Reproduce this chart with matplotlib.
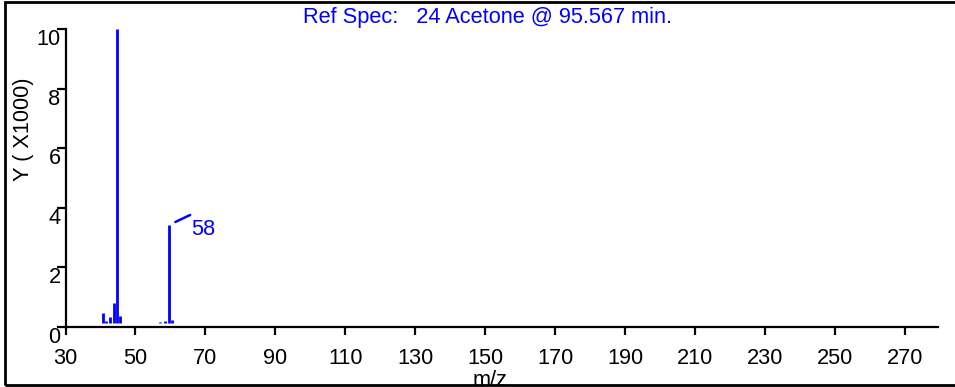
import matplotlib
matplotlib.use("Agg")
import matplotlib.pyplot as plt
from matplotlib.patches import Rectangle

# spectrum (x in axis units, intensity in X1000)
mz = [40.7, 41.7, 42.7, 43.8, 44.8, 45.7, 55.2, 56.2, 57.1, 58.4, 59.6, 60.5]
intensity = [0.45, 0.19, 0.34, 0.79, 10.0, 0.36, 0.14, 0.14, 0.15, 0.19, 3.42, 0.23]
BASELINE = 0.11

label_mz = 59.6
label_int = 3.42
label_text = "58"

x_ticks = list(range(30, 271, 20))
y_ticks = [0, 2, 4, 6, 8, 10]

title = "Ref Spec:   24 Acetone @ 95.567 min."
xlabel = "m/z"
ylabel = "Y ( X1000)"

BLUE = "#0000ff"
plt.rcParams['font.family'] = ['Liberation Sans', 'DejaVu Sans']
FS = 15.7

fig = plt.figure(figsize=(9.55, 3.87), dpi=100)
W, H = 955, 387
ax = fig.add_axes([65.5 / W, (H - 326.7) / H, (938 - 65.5) / W, (326.7 - 29.3) / H])

ax.vlines(mz, BASELINE, intensity, color=BLUE, lw=2)

ax.annotate(label_text, xy=(label_mz, label_int), xytext=(22, -5),
            textcoords="offset pixels", color=BLUE, fontsize=FS,
            va="center", ha="left")
# leader line
ax.annotate("", xy=(label_mz, label_int), xytext=(21, 10), textcoords="offset pixels",
            arrowprops=dict(arrowstyle="-", color=BLUE, lw=1.8, shrinkA=0, shrinkB=5))

ax.set_xlim(30, 279.3)
ax.set_ylim(0, 10)
ax.set_xticks(x_ticks)
ax.set_yticks(y_ticks)
ax.set_yticklabels([str(v) for v in y_ticks], va="top")

for s in ["top", "right"]:
    ax.spines[s].set_visible(False)
for s in ["left", "bottom"]:
    ax.spines[s].set_linewidth(1.6)
ax.tick_params(axis="x", direction="out", length=6, width=1.6, pad=9, labelsize=FS)
ax.tick_params(axis="y", direction="out", length=6.5, width=1.6, pad=-3, labelsize=FS)

fig.text(487 / W, 1 - 17 / H, title, color=BLUE, fontsize=FS, ha="center", va="center")
fig.text(490 / W, 1 - 385.5 / H, xlabel, fontsize=FS, ha="center", va="baseline")
fig.text(24 / W, 1 - 129 / H, ylabel, fontsize=FS, ha="center", va="center", rotation=90)

frame = Rectangle((5 / W, 2.5 / H), (W - 4) / W, (H - 4) / H, transform=fig.transFigure,
                  fill=False, edgecolor="black", lw=2, zorder=10)
fig.patches.append(frame)

fig.savefig("out.png", dpi=100)
